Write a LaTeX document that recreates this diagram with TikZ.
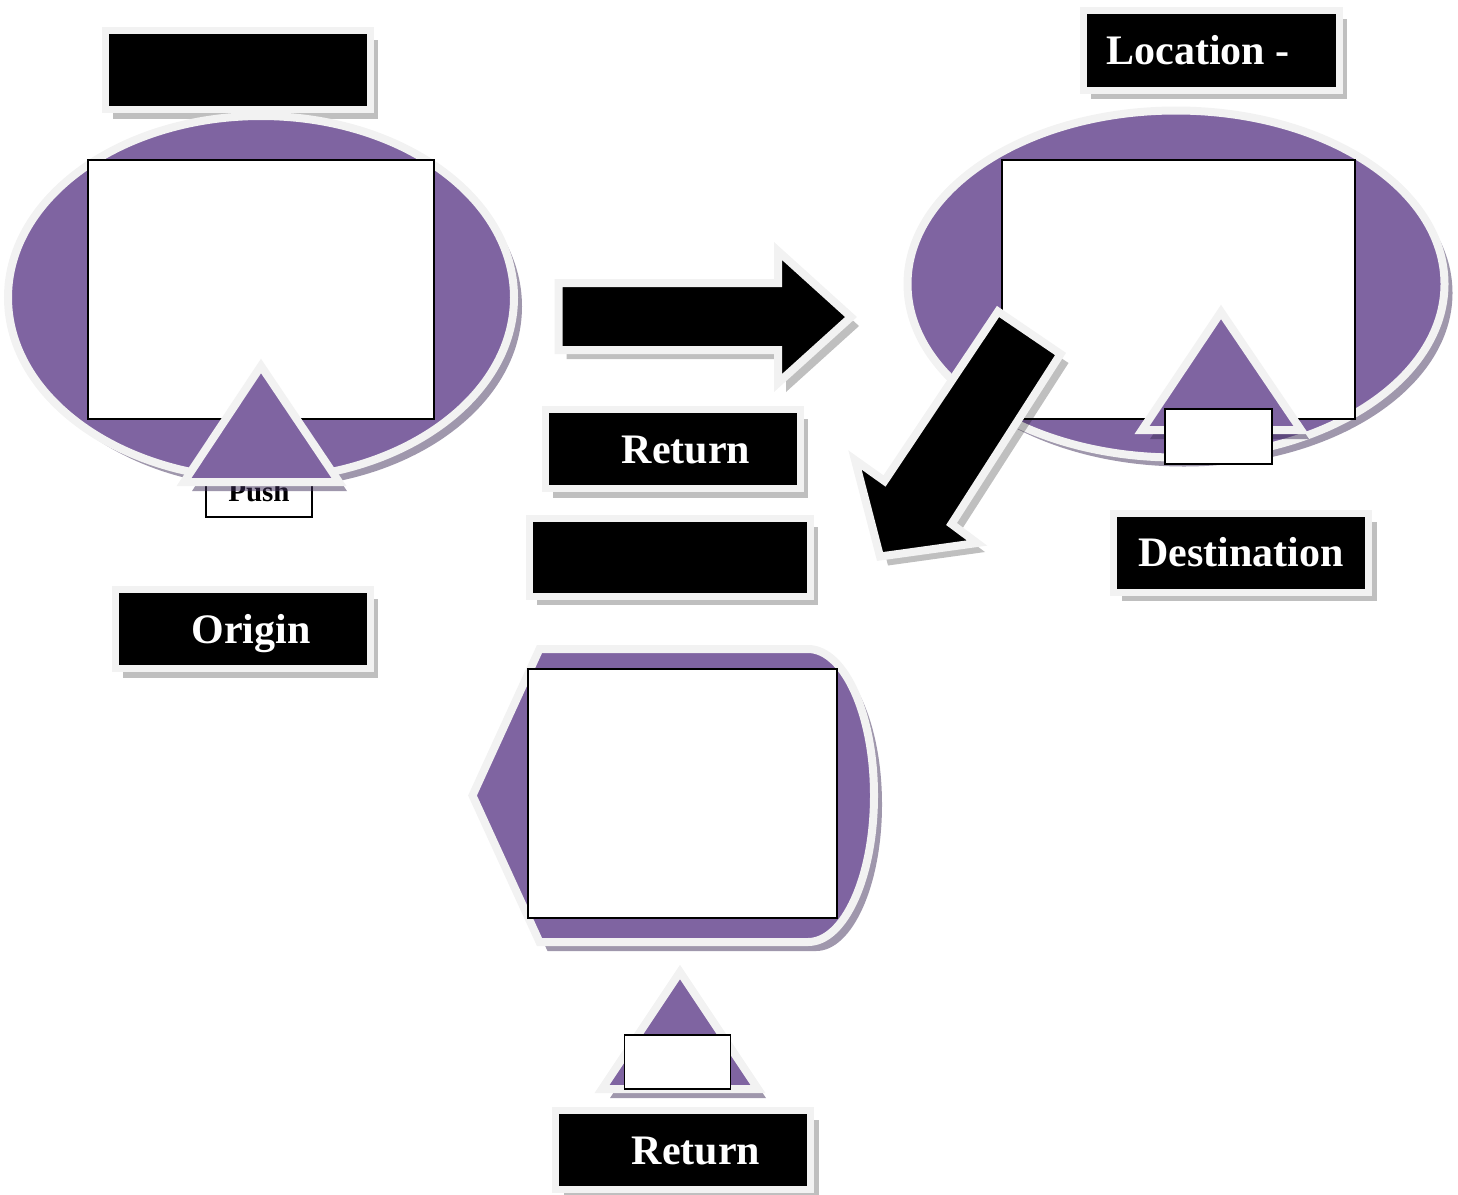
\documentclass[tikz,border=0pt]{standalone}
\usepackage{fontspec}
\setmainfont{Liberation Serif}
\usetikzlibrary{shapes.geometric,shadows}

\definecolor{blobpurple}{HTML}{7F64A1}
\definecolor{rimgray}{HTML}{F2F2F2}
\definecolor{shadowpurple}{HTML}{3F2F5A}

\tikzset{
  boxshadow/.style={drop shadow={shadow xshift=8pt,shadow yshift=-9pt,fill=black,opacity=.25}},
  blobshadow/.style={drop shadow={shadow xshift=8pt,shadow yshift=-9pt,fill=shadowpurple,opacity=.5}},
  labelbox/.style={draw=rimgray,line width=7pt,fill=black,text=white,inner sep=0pt,
    minimum width=255pt,minimum height=79pt,text height=28pt,text depth=0pt,
    font=\fontsize{42}{50}\selectfont\bfseries,boxshadow},
  blob/.style={draw=rimgray,line width=8pt,fill=blobpurple,blobshadow},
  screen/.style={draw=black,line width=1.6pt,fill=white,inner sep=0pt},
  tab/.style={draw=black,line width=1.3pt,fill=white,inner sep=0pt,minimum width=106pt,minimum height=54pt},
  bigarrow/.style={draw=rimgray,line width=8pt,fill=black,boxshadow}
}

\begin{document}
\begin{tikzpicture}[x=1pt,y=-1pt]
\useasboundingbox (0,0) rectangle (1458,1194);

\node (topbox) [labelbox,minimum width=265pt] at (237.5,70) {};
\node (origin blob) [blob,ellipse,minimum width=506pt,minimum height=363pt] at (261,297.5) {};
\node (origin screen) [screen,minimum width=346pt,minimum height=259pt] at (261,289.5) {};
\node (push) [tab,minimum height=57pt,text height=25pt,text depth=0pt,font=\fontsize{29}{34}\selectfont\bfseries] at (259,488.5) {Push};
\draw [blob] (261,366) -- (339,482) -- (184,482) -- cycle;
\node (origin) [labelbox] at (242.5,629) {\hspace*{17pt}Origin};

\draw [bigarrow] (558.5,283) -- (778,283) -- (778,251) -- (851,317) -- (778,383) -- (778,350) -- (558.5,350) -- cycle;
\node (return top) [labelbox] at (672.5,449) {\hspace*{27pt}Return};
\node (blank box) [labelbox,minimum width=281pt,minimum height=78pt] at (669.5,557) {};

\node (location) [labelbox,minimum width=256pt,minimum height=80pt] at (1211,50) {Location -\hspace*{26pt}};
\node (dest blob) [blob,ellipse,minimum width=537pt,minimum height=347pt] at (1176,284) {};
\node (dest screen) [screen,minimum width=353pt,minimum height=259pt] at (1178.5,289.5) {};
\draw [blob] (1221,312) -- (1301,430) -- (1142,430) -- cycle;
\node (dest tab) [tab,minimum width=107pt,minimum height=55pt] at (1218.5,436.5) {};
\draw [bigarrow] (998,311.5) -- (1060.5,354) -- (951.5,524) -- (977,543) -- (880,556.5) -- (855,460) -- (884.5,481) -- cycle;
\node (destination) [labelbox] at (1241,552.5) {Destination};

\draw [blob] (472.5,795.5) -- (539.5,649) -- (808,649) arc [start angle=-90,end angle=90,x radius=66,y radius=146.5] -- (539.5,942) -- cycle;
\node (return screen) [screen,minimum width=309pt,minimum height=249pt] at (682.5,793.5) {};
\draw [blob] (680,972) -- (758,1089) -- (602,1089) -- cycle;
\node (return tab) [tab] at (677.5,1062) {};
\node (return bottom) [labelbox] at (683,1150) {\hspace*{26pt}Return};
\end{tikzpicture}
\end{document}
